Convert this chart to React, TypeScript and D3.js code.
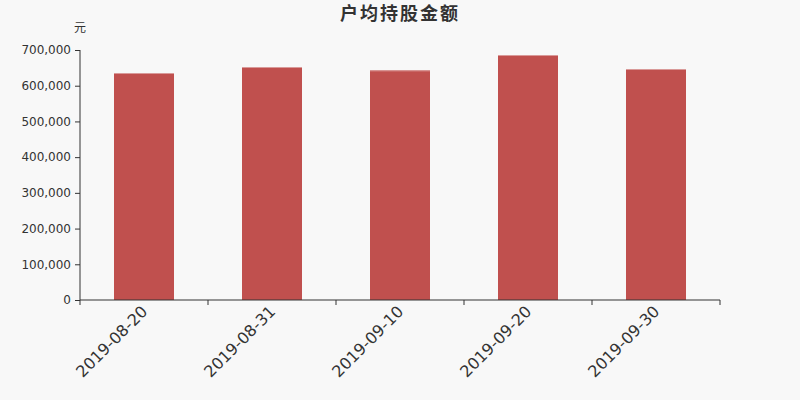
import { useEffect, useRef } from "react";
import * as d3 from "d3";

const dates = ["2019-08-20", "2019-08-31", "2019-09-10", "2019-09-20", "2019-09-30"];
const amounts = [635600, 652400, 643100, 686000, 646800];
const yTicks = [0, 100000, 200000, 300000, 400000, 500000, 600000, 700000];

export default function App() {
  const ref = useRef<SVGSVGElement>(null);

  useEffect(() => {
    if (!ref.current) return;
    const svg = d3.select(ref.current);
    svg.selectAll("*").remove();

    const width = 800;
    const height = 400;
    const margin = { top: 50, right: 80, bottom: 100, left: 80 };
    const innerWidth = width - margin.left - margin.right;
    const innerHeight = height - margin.top - margin.bottom;
    const font = "'DejaVu Sans', 'Noto Sans CJK SC', sans-serif";

    svg.append("rect").attr("width", width).attr("height", height).attr("fill", "#f8f8f8");

    svg.append("text")
      .attr("x", 400)
      .attr("y", 20)
      .attr("text-anchor", "middle")
      .style("font-family", "'Noto Sans CJK SC', sans-serif")
      .style("font-size", "18px")
      .style("font-weight", "bold")
      .style("letter-spacing", "2px")
      .style("fill", "#333")
      .text("户均持股金额");

    const g = svg.append("g").attr("transform", `translate(${margin.left},${margin.top})`);

    const x = d3.scaleBand<string>().domain(dates).range([0, innerWidth]).paddingInner(0).paddingOuter(0);
    const y = d3.scaleLinear().domain([0, 700000]).range([innerHeight, 0]);

    g.append("text")
      .attr("x", 0)
      .attr("y", -18)
      .attr("text-anchor", "middle")
      .style("font-family", "'Noto Sans CJK SC', sans-serif")
      .style("font-size", "12px")
      .style("fill", "#333")
      .text("元");

    const yAxis = g.append("g")
      .call(d3.axisLeft(y).tickValues(yTicks).tickSize(5).tickPadding(4).tickFormat((d) => d3.format(",")(d as number)));
    yAxis.select(".domain").attr("stroke", "#333").attr("d", `M0,0V${innerHeight}`);
    yAxis.selectAll(".tick line").attr("stroke", "#333");
    yAxis.selectAll("text").style("font-family", font).style("font-size", "12px").style("fill", "#333");

    const barW = 60;
    g.selectAll("rect.bar")
      .data(dates)
      .join("rect")
      .attr("class", "bar")
      .attr("x", (d) => x(d)! + x.bandwidth() / 2 - barW / 2)
      .attr("width", barW)
      .attr("y", (d, i) => y(amounts[i]))
      .attr("height", (d, i) => innerHeight - y(amounts[i]))
      .attr("fill", "#c0504e");

    // lighter top edge
    g.selectAll("line.edge")
      .data(dates)
      .join("line")
      .attr("class", "edge")
      .attr("x1", (d) => x(d)! + x.bandwidth() / 2 - barW / 2)
      .attr("x2", (d) => x(d)! + x.bandwidth() / 2 + barW / 2)
      .attr("y1", (d, i) => y(amounts[i]) + 0.5)
      .attr("y2", (d, i) => y(amounts[i]) + 0.5)
      .attr("stroke", "#d99a99")
      .attr("stroke-width", 1);

    const xAxis = g.append("g").attr("transform", `translate(0,${innerHeight})`);
    xAxis.append("line").attr("x1", 0).attr("x2", innerWidth).attr("y1", 0).attr("y2", 0).attr("stroke", "#333");
    const edges = [...dates.map((d) => x(d)!), innerWidth];
    xAxis.selectAll("line.tick")
      .data(edges)
      .join("line")
      .attr("class", "tick")
      .attr("x1", (d) => d)
      .attr("x2", (d) => d)
      .attr("y1", 0)
      .attr("y2", 5)
      .attr("stroke", "#333");
    xAxis.selectAll("text")
      .data(dates)
      .join("text")
      .attr("transform", (d) => `translate(${x(d)! + x.bandwidth() / 2},${8}) rotate(-45)`)
      .attr("text-anchor", "end")
      .attr("dy", "0.4em")
      .style("font-family", font)
      .style("font-size", "16px")
      .style("fill", "#333")
      .text((d) => d);
  }, []);

  return <svg ref={ref} width={800} height={400} style={{ display: "block", position: "absolute", left: 0, top: 0 }} />;
}
